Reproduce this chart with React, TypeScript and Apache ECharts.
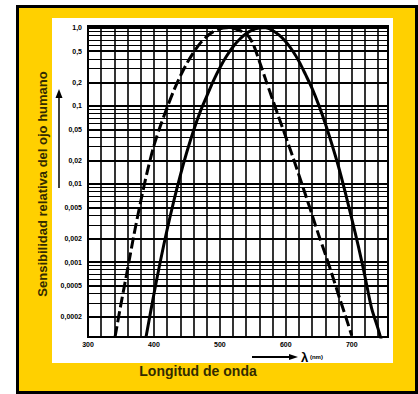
import React, { useEffect, useRef } from "react";
import * as echarts from "echarts";

// Escotópica (trazo discontinuo)
const scotopicNm = [341, 350, 360, 370, 380, 390, 400, 410, 420, 430, 440, 450, 460, 470, 480, 490, 500, 510, 520, 530, 540, 550, 560, 570, 580, 590, 600, 610, 620, 630, 640, 650, 660, 670, 680, 690, 700];
const scotopicVal = [0.00011, 0.00029, 0.00081, 0.0023, 0.006, 0.0145, 0.031, 0.056, 0.095, 0.156, 0.24, 0.35, 0.48, 0.63, 0.77, 0.89, 0.97, 1.0, 0.98, 0.92, 0.84, 0.63, 0.37, 0.21, 0.12, 0.069, 0.04, 0.023, 0.0129, 0.0072, 0.004, 0.0022, 0.00126, 0.0007, 0.00038, 0.00021, 0.000115];

// Fotópica (trazo continuo)
const photopicNm = [388, 400, 410, 420, 430, 440, 450, 460, 470, 480, 490, 500, 510, 520, 530, 540, 550, 560, 565, 570, 580, 590, 600, 610, 620, 630, 640, 650, 660, 670, 680, 690, 700, 710, 720, 730, 740, 745];
const photopicVal = [0.00011, 0.00039, 0.00105, 0.0026, 0.006, 0.0129, 0.0258, 0.048, 0.083, 0.132, 0.207, 0.307, 0.43, 0.57, 0.71, 0.84, 0.94, 0.99, 1.0, 0.995, 0.92, 0.8, 0.66, 0.51, 0.37, 0.25, 0.166, 0.102, 0.059, 0.032, 0.0166, 0.0079, 0.0036, 0.0016, 0.00066, 0.00026, 0.00014, 0.0001];

// Etiquetas del eje vertical
const yTickValues = [1, 0.5, 0.2, 0.1, 0.05, 0.02, 0.01, 0.005, 0.002, 0.001, 0.0005, 0.0002];
const yTickLabels = ["1,0", "0,5", "0,2", "0,1", "0,05", "0,02", "0,01", "0,005", "0,002", "0,001", "0,0005", "0,0002"];

// Líneas de la cuadrícula logarítmica
const gridMantissas = [1, 2, 3, 4, 5, 6, 7, 8, 9];
const gridDecades = [0.0001, 0.001, 0.01, 0.1, 1];

const X_MIN = 300;
const X_MAX = 755;
const Y_MIN = 0.00011;
const Y_MAX = 1.05;

const FONT = "Arial, 'Liberation Sans', sans-serif";

export default function App() {
  const ref = useRef<HTMLDivElement>(null);

  useEffect(() => {
    if (!ref.current) return;
    const chart = echarts.init(ref.current, null, { renderer: "svg" });

    const gridVals: number[] = [];
    gridDecades.forEach((d) =>
      gridMantissas.forEach((m) => {
        const v = +(m * d).toPrecision(3);
        if (v >= Y_MIN && v <= Y_MAX) gridVals.push(v);
      })
    );

    const markData = gridVals.map((v) => {
      const idx = yTickValues.findIndex((t) => Math.abs(t - v) / v < 1e-6);
      const major = idx >= 0;
      return {
        yAxis: v,
        lineStyle: { color: "#000", width: major ? 2 : 1.2, type: "solid" as const },
        label: major
          ? {
              show: true,
              position: "start" as const,
              formatter: yTickLabels[idx],
              distance: 6,
              fontSize: 7,
              fontWeight: "bold" as const,
              fontFamily: FONT,
              color: "#000",
            }
          : { show: false },
      };
    });

    const option: any = {
      animation: false,
      backgroundColor: "#fff",
      grid: {
        left: 88,
        top: 26,
        width: 300,
        height: 311,
        show: true,
        borderColor: "#000",
        borderWidth: 2,
        backgroundColor: "transparent",
      },
      xAxis: {
        type: "value",
        min: X_MIN,
        max: X_MAX,
        interval: 20,
        axisLine: { show: false },
        axisTick: { show: false },
        axisLabel: {
          margin: 4,
          fontSize: 7,
          fontWeight: "bold",
          fontFamily: FONT,
          color: "#000",
          formatter: (v: number) => (v % 100 === 0 ? String(v) : ""),
        },
        splitLine: { show: true, lineStyle: { color: "#000", width: 1.6 } },
      },
      yAxis: {
        type: "log",
        logBase: 10,
        min: Y_MIN,
        max: Y_MAX,
        axisLine: { show: false },
        axisTick: { show: false },
        axisLabel: { show: false },
        splitLine: { show: false },
      },
      graphic: [
        { type: "rect", z: -10, shape: { x: 16, y: 5, width: 402, height: 389 }, style: { fill: "#000" } },
        { type: "rect", z: -9, shape: { x: 19, y: 8, width: 396, height: 383 }, style: { fill: "#FFD000" } },
        { type: "rect", z: -8, shape: { x: 52, y: 18, width: 341, height: 345 }, style: { fill: "#fff" } },
        {
          type: "text",
          x: 42,
          y: 184,
          rotation: Math.PI / 2,
          z: 10,
          style: {
            text: "Sensibilidad relativa del ojo humano",
            fontSize: 13,
            fontWeight: "bold",
            fontFamily: FONT,
            fill: "#332b00",
            align: "center",
            verticalAlign: "middle",
          },
        },
        {
          type: "text",
          x: 198,
          y: 371,
          z: 10,
          style: {
            text: "Longitud de onda",
            fontSize: 14,
            fontWeight: "bold",
            fontFamily: FONT,
            fill: "#332b00",
            align: "center",
            verticalAlign: "middle",
          },
        },
        { type: "line", z: 10, shape: { x1: 59, y1: 188, x2: 59, y2: 96 }, style: { stroke: "#000", lineWidth: 1.5 } },
        { type: "polygon", z: 10, shape: { points: [[55.5, 98], [59, 89], [62.5, 98]] }, style: { fill: "#000" } },
        { type: "line", z: 10, shape: { x1: 252, y1: 357, x2: 291, y2: 357 }, style: { stroke: "#000", lineWidth: 2 } },
        { type: "polygon", z: 10, shape: { points: [[289, 354], [298, 357], [289, 360]] }, style: { fill: "#000" } },
        {
          type: "text",
          x: 301,
          y: 357,
          z: 10,
          style: {
            text: "{l|λ}{s| (nm)}",
            fontFamily: FONT,
            verticalAlign: "middle",
            align: "left",
            fill: "#000",
            rich: {
              l: { fontSize: 13, fontWeight: "bold", fontFamily: FONT, fill: "#000" },
              s: { fontSize: 6, fontWeight: "bold", fontFamily: FONT, fill: "#000" },
            },
          },
        },
      ],
      series: [
        {
          type: "line",
          name: "grid",
          data: [[X_MIN, 1]],
          symbol: "none",
          lineStyle: { opacity: 0 },
          silent: true,
          z: 1,
          markLine: {
            silent: true,
            precision: 8,
            symbol: ["none", "none"],
            animation: false,
            data: markData,
          },
        },
        {
          type: "line",
          name: "escotópica",
          data: scotopicNm.map((x, i) => [x, scotopicVal[i]]),
          smooth: 0.3,
          symbol: "none",
          z: 5,
          lineStyle: { color: "#000", width: 3, type: [11, 4] },
        },
        {
          type: "line",
          name: "fotópica",
          data: photopicNm.map((x, i) => [x, photopicVal[i]]),
          smooth: 0.3,
          symbol: "none",
          z: 5,
          lineStyle: { color: "#000", width: 3 },
        },
      ],
    };

    chart.setOption(option);
    return () => chart.dispose();
  }, []);

  return <div ref={ref} style={{ position: "fixed", left: 0, top: 0, width: 418, height: 394 }} />;
}
